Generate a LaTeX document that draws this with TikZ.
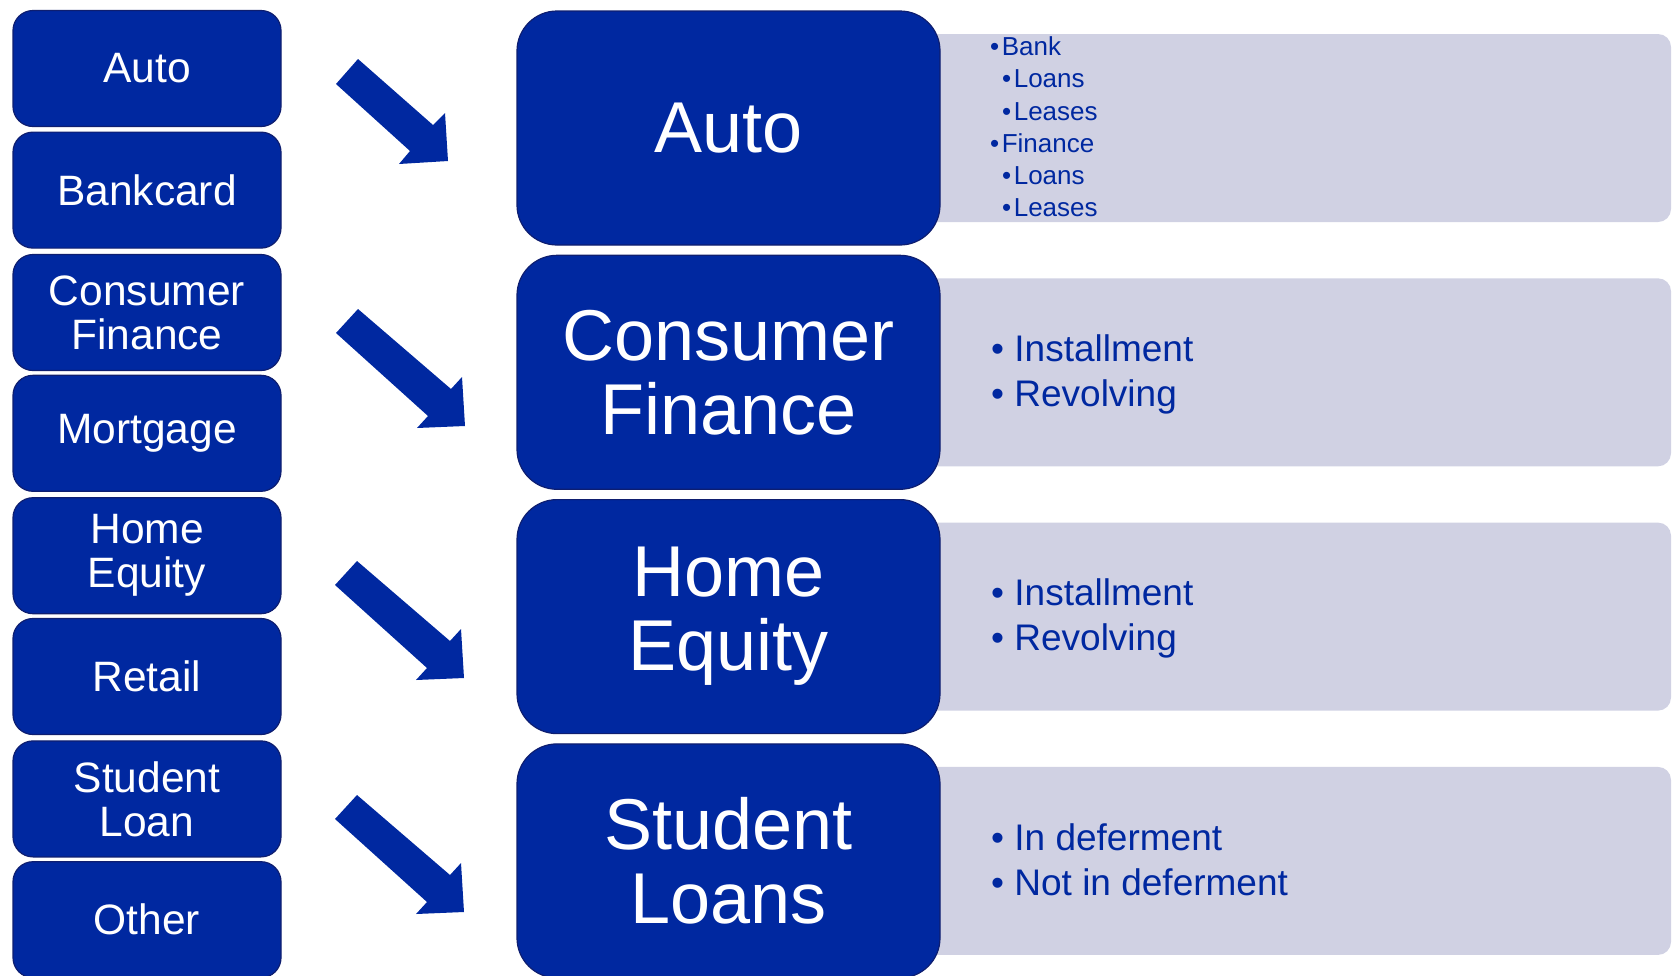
\documentclass[tikz,border=0pt]{standalone}
\usepackage{fontspec}
\setmainfont{Liberation Sans}

\definecolor{navy}{RGB}{0,40,160}
\definecolor{navyedge}{RGB}{14,30,112}
\definecolor{panel}{RGB}{208,209,227}

% tight bullet used in the nested list
\newcommand{\tbul}{•\hspace{2.5pt}}

\tikzset{
  catbox/.style={draw=navyedge, line width=1.2pt, fill=navy, rounded corners=20pt,
    minimum width=268pt, minimum height=116pt, inner sep=0pt, text=white,
    align=center, font=\fontsize{42.5}{44}\selectfont},
  groupbox/.style={draw=navyedge, line width=1.2pt, fill=navy, rounded corners=40pt,
    minimum width=423pt, minimum height=234pt, inner sep=0pt, text=white,
    align=center, font=\fontsize{72}{74}\selectfont},
  panelbox/.style={fill=panel, rounded corners=13pt, minimum width=771pt,
    minimum height=188pt, inner sep=0pt},
  detailtext/.style={anchor=west, inner sep=0pt, text=navy, align=left},
  detailsmall/.style={detailtext, font=\fontsize{26}{32.2}\selectfont},
  detaillarge/.style={detailtext, font=\fontsize{37}{45}\selectfont},
  % block arrow pointing down-right, drawn from its upper-left tail corner
  flowarrow/.pic={\fill[navy] (0,0) -- (22,-24) -- (115,56) -- (126,44) -- (129,93)
    -- (81,95) -- (92,83) -- cycle;},
  shortarrow/.pic={\fill[navy] (0,0) -- (22,-25) -- (97,41) -- (109,29) -- (112,77)
    -- (63,80) -- (74,67) -- cycle;},
}

\begin{document}
\begin{tikzpicture}[x=1pt, y=-1pt]
\useasboundingbox (0,0) rectangle (1672,975);

% loan categories
\node[catbox] (cAuto)     at (147,68.5)  {Auto};
\node[catbox] (cBank)     at (147,190.1) {Bankcard};
\node[catbox] (cConsumer) at (147,312.5) {Consumer\\Finance};
\node[catbox] (cMortgage) at (147,433.3) {Mortgage};
\node[catbox] (cHome)     at (147,555.7) {Home\\Equity};
\node[catbox] (cRetail)   at (147,676.5) {Retail};
\node[catbox] (cStudent)  at (147,798.9) {Student\\Loan};
\node[catbox] (cOther)    at (147,919.7) {Other};

% arrows
\pic at (336,84)  {shortarrow};
\pic at (336,333) {flowarrow};
\pic at (335,585) {flowarrow};
\pic at (335,819) {flowarrow};

% detail panels behind the group boxes
\node[panelbox] (pAuto)     at (1285.5,128)   {};
\node[panelbox] (pConsumer) at (1285.5,372.3) {};
\node[panelbox] (pHome)     at (1285.5,616.6) {};
\node[panelbox] (pStudent)  at (1285.5,860.9) {};

% selected groups
\node[groupbox] (gAuto)     at (728.5,128)   {Auto};
\node[groupbox] (gConsumer) at (728.5,372.3) {Consumer\\Finance};
\node[groupbox] (gHome)     at (728.5,616.6) {Home\\Equity};
\node[groupbox] (gStudent)  at (728.5,860.9) {Student\\Loans};

% panel contents
\node[detailsmall] (dAuto) at (990,127)
  {\tbul Bank\\\hspace*{12pt}\tbul Loans\\\hspace*{12pt}\tbul Leases\\\tbul Finance\\\hspace*{12pt}\tbul Loans\\\hspace*{12pt}\tbul Leases};
\node[detaillarge] (dConsumer) at (991,374.6) {• Installment\\• Revolving};
\node[detaillarge] (dHome)     at (991,618.9) {• Installment\\• Revolving};
\node[detaillarge] (dStudent)  at (991,859.3) {• In deferment\\• Not in deferment};
\end{tikzpicture}
\end{document}
